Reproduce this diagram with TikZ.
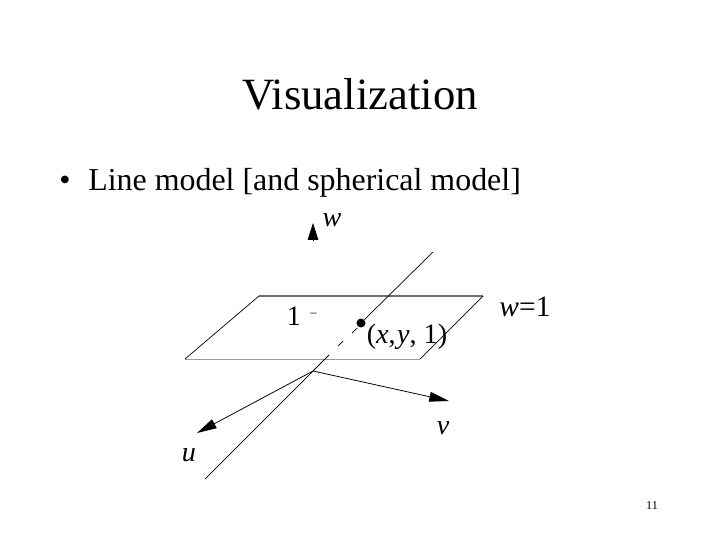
\documentclass[tikz,border=0pt]{standalone}
\usepackage{fontspec}
\setmainfont{Liberation Serif}
\usepackage{tikz}
\usetikzlibrary{arrows.meta,positioning}
\definecolor{colEdgeTop}{HTML}{707070}
\definecolor{colEdgeLow}{HTML}{9A9A9A}
\newcommand{\fsz}[1]{\fontsize{#1}{#1}\selectfont}

\begin{document}
\begin{tikzpicture}[
        x=0.025cm, y=0.025cm,
        titlelbl/.style={font=\fsz{31.8}, inner sep=0pt, anchor=base},
        textlbl/.style={font=\fsz{22.7}, inner sep=0pt, anchor=base west},
        lbl/.style={font=\fsz{20}, inner sep=0pt, anchor=base},
        arr/.style={-{Triangle[length=14pt, width=7pt]}, line width=0.55pt, draw=black},
        thin line/.style={line width=0.5pt, draw=black}
    ]
        \useasboundingbox (0,0) rectangle (720,540);

        % --- TEXT ---
        \node[titlelbl] (title) at (360, 430) {Visualization};
        \node[textlbl] (bullet) at (59, 349.5) {•};
        \node[textlbl] (item) at (88, 349.5) {Line model [and spherical model]};
        \node[inner sep=0pt, anchor=base, font=\fsz{8.6}] (pagenum) at (652, 31) {11};

        % --- PLANE ---
        \coordinate (planeTL) at (259, 244);
        \coordinate (planeTR) at (483, 244);
        \coordinate (planeBR) at (420, 181);
        \coordinate (planeBL) at (185, 181);
        \draw[line width=1pt, colEdgeTop] (planeTL) -- (planeTR);
        \draw[line width=0.6pt, colEdgeLow] (planeBL) -- (planeBR);
        \draw[thin line] (planeTL) -- (planeBL);
        \draw[thin line] (planeTR) -- (planeBR);

        % --- AXES ---
        \coordinate (orig) at (313, 169);
        \coordinate (uTip) at (197, 107);
        \coordinate (vTip) at (449, 139);
        \coordinate (wBase) at (313, 299);
        \coordinate (wTip) at (313, 317);
        \draw[arr] (orig) -- (uTip);
        \draw[arr] (orig) -- (vTip);
        \draw[-{Triangle[length=12pt, width=7.5pt]}, line width=0.5pt] (wBase) -- (wTip);

        % --- LINE THROUGH THE ORIGIN ---
        \coordinate (lineTop) at (433, 288);
        \coordinate (lineLow) at (205, 61);
        \node[circle, fill=black, inner sep=0pt, minimum size=6.4pt] (pt) at (361, 217) {};
        \coordinate (dashA) at (357, 212);
        \coordinate (dashB) at (352, 207);
        \coordinate (dashC) at (343, 199);
        \coordinate (dashD) at (338, 194);
        \coordinate (dashE) at (329, 185);
        \draw[thin line] (lineTop) -- (pt);
        \draw[thin line] (dashA) -- (dashB);
        \draw[thin line] (dashC) -- (dashD);
        \draw[line width=0.6pt] (dashE) -- (orig);
        \draw[thin line] (orig) -- (lineLow);

        % --- LABELS ---
        \node[lbl] (wLbl) at (332, 314) {\textit{w}};
        \node[lbl] (uLbl) at (189, 79) {\textit{u}};
        \node[lbl] (vLbl) at (443, 106) {\textit{v}};
        \node[lbl, font=\fsz{21}] (planeLbl) at (525, 224) {\textit{w}=1};
        \node[lbl] (oneLbl) at (294, 215) {1};
        \node[lbl, font=\fsz{9}] (tickLbl) at (313.5, 224) {–};
        \node[lbl] (ptLbl) at (407, 197) {(\textit{x},\kern-1pt\ \kern-3pt\textit{y}, 1)};
    \end{tikzpicture}
\end{document}
